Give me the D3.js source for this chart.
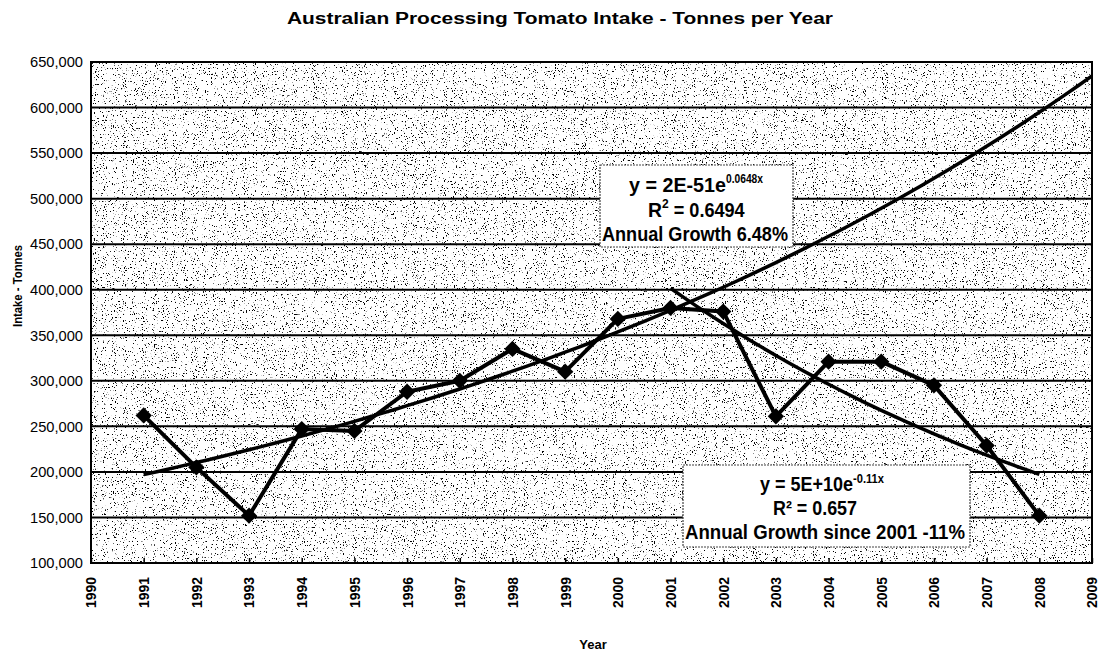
<!DOCTYPE html>
<html>
<head>
<meta charset="utf-8">
<title>Australian Processing Tomato Intake</title>
<style>
body {margin: 0; background: #fff;}
text {font-family: "Liberation Sans", Arial, sans-serif; fill: #000;}
.title {font-size: 16px; font-weight: bold;}
.axis-title {font-size: 13px; font-weight: bold;}
.ytick text {font-size: 15px;}
.xtick text {font-size: 14px; font-weight: bold;}
.note {font-size: 20px; font-weight: bold;}
</style>
</head>
<body>
<div id="chart"></div>
<script src="https://cdn.jsdelivr.net/npm/d3@7/dist/d3.min.js"></script>
<script>
// data
var years = [1991, 1992, 1993, 1994, 1995, 1996, 1997, 1998, 1999, 2000,
	2001, 2002, 2003, 2004, 2005, 2006, 2007, 2008];
var intake = [262000, 205000, 152000, 247000, 245000, 288000, 300000, 335000, 310000, 368000,
	380000, 376000, 261000, 321000, 321000, 295000, 229000, 152000];
var yearTicks = d3.range(1990, 2010);
var intakeTicks = d3.range(100000, 650001, 50000);
var note1 = ['y = 2E-51e', '0.0648x', 'R', '2', ' = 0.6494', 'Annual Growth 6.48%'];
var note2 = ['y = 5E+10e', '-0.11x', 'R² = 0.657', 'Annual Growth since 2001 -11%'];

(function(d3) {
	var width = 1099, height = 652;
	var left = 91, right = 1092, top = 62, bottom = 563;

	var svg = d3.select('#chart').append('svg')
		.attr('width', width)
		.attr('height', height);

	var x = d3.scaleLinear().domain([1990, 2009]).range([left, right]);
	var y = d3.scaleLinear().domain([100000, 650000]).range([bottom, top]);

	// speckled fill of the plot area
	var defs = svg.append('defs');
	var f = defs.append('filter').attr('id', 'speck')
		.attr('x', 0).attr('y', 0).attr('width', 1).attr('height', 1);
	f.append('feTurbulence').attr('type', 'fractalNoise').attr('baseFrequency', '0.9 0.7')
		.attr('numOctaves', 2).attr('seed', 7).attr('result', 'n');
	f.append('feColorMatrix').attr('in', 'n').attr('type', 'matrix')
		.attr('values', '0 0 0 0 0  0 0 0 0 0  0 0 0 0 0  16 0 0 0 -10.3');

	svg.append('rect')
		.attr('x', left).attr('y', top)
		.attr('width', right - left).attr('height', bottom - top)
		.attr('fill', '#fff');
	svg.append('rect')
		.attr('x', left).attr('y', top)
		.attr('width', right - left).attr('height', bottom - top)
		.attr('fill', '#000')
		.attr('filter', 'url(#speck)');

	// gridlines
	svg.append('g').selectAll('line')
		.data(intakeTicks)
		.enter().append('line')
		.attr('x1', left).attr('x2', right)
		.attr('y1', function(d) { return y(d); })
		.attr('y2', function(d) { return y(d); })
		.attr('stroke', '#000').attr('stroke-width', 2);

	svg.append('rect')
		.attr('x', left).attr('y', top)
		.attr('width', right - left).attr('height', bottom - top)
		.attr('fill', 'none').attr('stroke', '#000').attr('stroke-width', 2);

	// axes
	var yAxis = svg.append('g').attr('class', 'ytick')
		.attr('transform', 'translate(' + left + ',0)')
		.call(d3.axisLeft(y).tickValues(intakeTicks).tickSize(0).tickPadding(8)
			.tickFormat(d3.format(',')));
	yAxis.select('.domain').remove();
	yAxis.selectAll('text')
		.attr('textLength', 53).attr('lengthAdjust', 'spacingAndGlyphs');

	var xAxis = svg.append('g').attr('class', 'xtick')
		.attr('transform', 'translate(0,' + bottom + ')')
		.call(d3.axisBottom(x).tickValues(yearTicks).tickSize(-5).tickFormat(d3.format('d')));
	xAxis.select('.domain').remove();
	xAxis.selectAll('line').attr('stroke-width', 1.5);
	xAxis.selectAll('text')
		.attr('transform', 'rotate(-90)')
		.attr('x', -14).attr('y', 0).attr('dy', '0.35em')
		.attr('textLength', 31).attr('lengthAdjust', 'spacingAndGlyphs')
		.style('text-anchor', 'end');

	// exponential trend lines fitted to the data
	function expFit(xs, ys) {
		var n = xs.length;
		var mx = d3.mean(xs), my = d3.mean(ys, function(v) { return Math.log(v); });
		var sxy = 0, sxx = 0;
		for (var i = 0; i < n; i++) {
			sxy += (xs[i] - mx) * (Math.log(ys[i]) - my);
			sxx += (xs[i] - mx) * (xs[i] - mx);
		}
		var b = sxy / sxx, a = my - b * mx;
		return function(t) { return Math.exp(a + b * t); };
	}
	var cut = years.indexOf(2001);
	var fitEarly = expFit(years.slice(0, cut + 1), intake.slice(0, cut + 1));
	var fitLate = expFit(years.slice(cut), intake.slice(cut));

	var line = d3.line()
		.x(function(d) { return x(d[0]); })
		.y(function(d) { return y(d[1]); });

	var t1 = d3.range(1991, 2009.01, 0.25);
	svg.append('path')
		.attr('d', line(t1.map(function(t) { return [t, fitEarly(t)]; })))
		.attr('fill', 'none').attr('stroke', '#000').attr('stroke-width', 3.5);
	var t2 = d3.range(2001, 2008.01, 0.25);
	svg.append('path')
		.attr('d', line(t2.map(function(t) { return [t, fitLate(t)]; })))
		.attr('fill', 'none').attr('stroke', '#000').attr('stroke-width', 3.5);

	// data series
	var pts = years.map(function(yr, i) { return [yr, intake[i]]; });
	svg.append('path')
		.attr('d', line(pts))
		.attr('fill', 'none').attr('stroke', '#000').attr('stroke-width', 4)
		.attr('stroke-linejoin', 'round');
	svg.append('g').selectAll('path')
		.data(pts)
		.enter().append('path')
		.attr('d', d3.symbol().type(d3.symbolDiamond2).size(170))
		.attr('transform', function(d) { return 'translate(' + x(d[0]) + ',' + y(d[1]) + ')'; })
		.attr('fill', '#000');

	// equation boxes
	function box(bx, by, bw, bh) {
		svg.append('rect')
			.attr('x', bx).attr('y', by).attr('width', bw).attr('height', bh)
			.attr('fill', '#fff').attr('stroke', '#444').attr('stroke-width', 1.2)
			.attr('stroke-dasharray', '2,1');
	}
	function fit(sel, w) {
		sel.attr('textLength', w).attr('lengthAdjust', 'spacingAndGlyphs');
		return sel;
	}
	box(600, 165, 193, 82);
	var l1 = svg.append('text').attr('class', 'note').attr('x', 629).attr('y', 192);
	fit(l1.append('tspan').text(note1[0]), 97);
	fit(l1.append('tspan').attr('dy', -9).style('font-size', '12px').text(note1[1]), 37);
	var l2 = svg.append('text').attr('class', 'note').attr('x', 648).attr('y', 217);
	fit(l2.append('tspan').text(note1[2]), 14);
	l2.append('tspan').attr('dy', -9).style('font-size', '12px').text(note1[3]);
	fit(l2.append('tspan').attr('dy', 9).text(note1[4]), 76);
	fit(svg.append('text').attr('class', 'note').attr('x', 602).attr('y', 241)
		.text(note1[5]), 186);

	box(683, 465, 287, 82);
	var m1 = svg.append('text').attr('class', 'note').attr('x', 760).attr('y', 491);
	fit(m1.append('tspan').text(note2[0]), 93);
	fit(m1.append('tspan').attr('dy', -8).style('font-size', '12px').text(note2[1]), 31);
	fit(svg.append('text').attr('class', 'note').attr('x', 773).attr('y', 515)
		.text(note2[2]), 84);
	fit(svg.append('text').attr('class', 'note').attr('x', 685).attr('y', 539)
		.text(note2[3]), 280);

	// titles
	fit(svg.append('text').attr('class', 'title')
		.attr('x', 287).attr('y', 24)
		.text('Australian Processing Tomato Intake - Tonnes per Year'), 546);
	svg.append('text').attr('class', 'axis-title')
		.attr('x', 593).attr('y', 649).attr('text-anchor', 'middle')
		.text('Year');
	fit(svg.append('text').attr('class', 'axis-title')
		.attr('transform', 'translate(22,286) rotate(-90)')
		.attr('text-anchor', 'middle')
		.text('Intake - Tonnes'), 82);
})(window.d3);
</script>
</body>
</html>
